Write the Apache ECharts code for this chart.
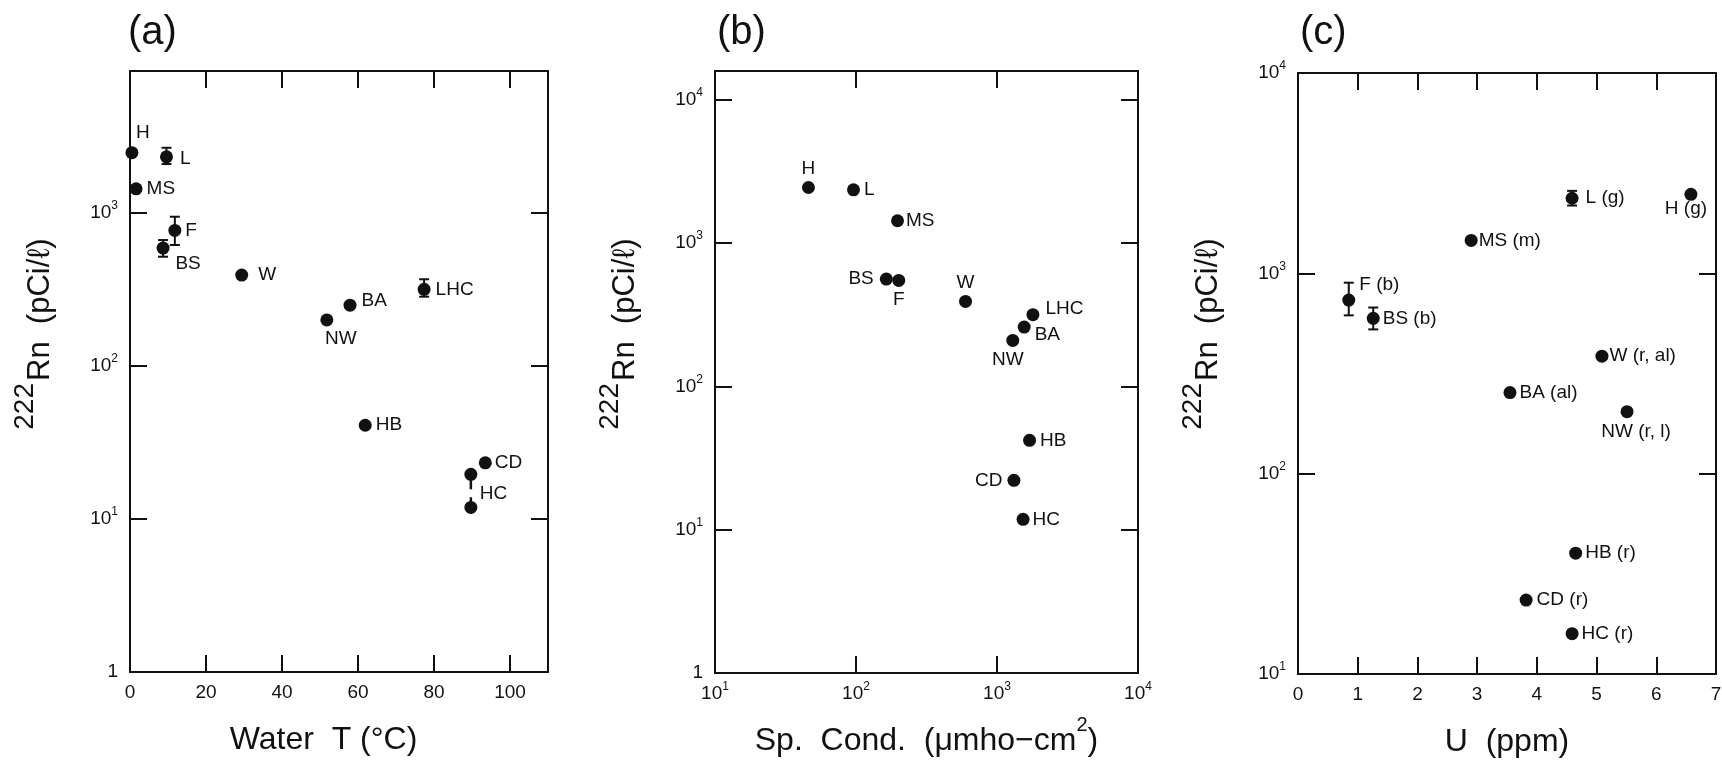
<!DOCTYPE html>
<html><head><meta charset="utf-8">
<script src="https://cdn.jsdelivr.net/npm/echarts@6/dist/echarts.min.js"></script>
<style>html,body{margin:0;padding:0;background:#fff}#c{width:1722px;height:762px}</style>
</head><body><div id="c"></div>
<script>
// ---------------- data ----------------
// Panel (a): 222Rn vs water temperature
const sitesA = ['H', 'L', 'MS', 'F', 'BS', 'W', 'BA', 'NW', 'LHC', 'HB', 'CD'];
const waterT = [0.5, 9.6, 1.6, 11.8, 8.7, 29.4, 57.9, 51.8, 77.4, 61.9, 93.5];
const rnA    = [2480, 2330, 1440, 770, 590, 393, 250, 200, 317, 41, 23.3];
const hcSiteA = 'HC';
const hcTempA = 89.7;
const hcRnA = [11.9, 19.6];
const errSitesA = ['L', 'F', 'BS', 'LHC'];
const errLowA  = [2090, 618, 518, 284];
const errHighA = [2670, 946, 666, 369];

// Panel (b): 222Rn vs specific conductance
const sitesB = ['H', 'L', 'MS', 'BS', 'F', 'W', 'LHC', 'BA', 'NW', 'HB', 'CD', 'HC'];
const spCond = [46, 96, 197, 164, 201, 598, 1798, 1559, 1294, 1702, 1318, 1531];
const rnB    = [2440, 2350, 1430, 560, 548, 391, 316, 259, 209, 42, 22.1, 11.8];

// Panel (c): 222Rn vs uranium
const sitesC = ['L (g)', 'H (g)', 'MS (m)', 'F (b)', 'BS (b)', 'W (r, al)', 'BA (al)', 'NW (r, l)', 'HB (r)', 'CD (r)', 'HC (r)'];
const uPpm   = [4.59, 6.58, 2.90, 0.85, 1.26, 5.09, 3.55, 5.51, 4.65, 3.82, 4.59];
const rnC    = [2370, 2480, 1460, 735, 596, 386, 254, 204, 40.1, 23.4, 15.9];
const errSitesC = ['L (g)', 'F (b)', 'BS (b)'];
const errLowC  = [2180, 617, 525];
const errHighC = [2580, 898, 675];

// tick labels and texts
const ticksTemp = [0, 20, 40, 60, 80, 100];
const ticksU = [0, 1, 2, 3, 4, 5, 6, 7];
const panelTitles = ['(a)', '(b)', '(c)'];
// axis names as [normal, superscript, normal, ...] pieces
const xNameParts = [['Water  T (°C)'], ['Sp.  Cond.  (μmho−cm', '2', ')'], ['U  (ppm)']];
const yTitleSup = '222';
const yTitleMain = 'Rn  (pCi/ℓ)';

// ---------------- styles (kept apart from data) ----------------
const FF = '"Liberation Sans", Arial, Helvetica, sans-serif';
const INK = '#111';
const placeA = {
  H: {position: 'top', distance: 4, offset: [11, 0]},
  L: {position: 'right', distance: 7, offset: [0, 2]},
  MS: {position: 'right', distance: 4},
  F: {position: 'right', distance: 4},
  BS: {position: 'bottom', distance: 0, offset: [25, 0]},
  W: {position: 'right', distance: 10},
  BA: {position: 'right', distance: 5, offset: [0, -4]},
  NW: {position: 'bottom', distance: 3, offset: [14, 0]},
  LHC: {position: 'right', distance: 5},
  HB: {position: 'right', distance: 4},
  CD: {position: 'right', distance: 3}
};
const placeB = {
  H: {position: 'top', distance: 3},
  L: {position: 'right', distance: 4},
  MS: {position: 'right', distance: 2},
  BS: {position: 'left', distance: 6},
  F: {position: 'bottom', distance: 3},
  W: {position: 'top', distance: 3},
  LHC: {position: 'right', distance: 6, offset: [0, -6]},
  BA: {position: 'right', distance: 4, offset: [0, 8]},
  NW: {position: 'bottom', distance: 3, offset: [-5, 0]},
  HB: {position: 'right', distance: 4},
  CD: {position: 'left', distance: 5},
  HC: {position: 'right', distance: 3}
};
const placeC = {
  'L (g)': {position: 'right', distance: 7},
  'H (g)': {position: 'bottom', distance: -2, offset: [-5, 0]},
  'MS (m)': {position: 'right', distance: 1},
  'F (b)': {position: 'right', distance: 4, offset: [0, -15]},
  'BS (b)': {position: 'right', distance: 3},
  'W (r, al)': {position: 'right', distance: 1},
  'BA (al)': {position: 'right', distance: 3},
  'NW (r, l)': {position: 'bottom', distance: 4, offset: [9, 0]},
  'HB (r)': {position: 'right', distance: 3},
  'CD (r)': {position: 'right', distance: 4},
  'HC (r)': {position: 'right', distance: 3}
};

const grids = [
  {left: 130, top: 71, width: 418, height: 601},
  {left: 715, top: 71, width: 423, height: 602},
  {left: 1298, top: 73, width: 418, height: 601}
];

function powLabel(v) {
  const n = Math.round(Math.log10(v));
  if (Math.abs(v / Math.pow(10, n) - 1) > 1e-6) return '';
  if (n === 0) return '{b|1}';
  return '{b|10}{s|' + n + '}';
}
const tickRich = {
  b: {fontSize: 19, lineHeight: 26, color: INK, fontFamily: FF},
  s: {fontSize: 12, lineHeight: 12, color: INK, fontFamily: FF, verticalAlign: 'top'}
};
const nameRich = {
  m: {fontSize: 32, lineHeight: 52, color: INK, fontFamily: FF},
  s: {fontSize: 20, lineHeight: 20, color: INK, fontFamily: FF, verticalAlign: 'top'}
};
function richName(parts) {
  return parts.map((p, i) => '{' + (i % 2 ? 's' : 'm') + '|' + p + '}').join('');
}

function baseAxis(gridIndex, position, scale, showLabel, formatter, isX) {
  return Object.assign({
    gridIndex, position,
    axisLine: {show: true, onZero: false, lineStyle: {color: INK, width: 2}},
    axisTick: {show: true, inside: true, length: 17, lineStyle: {color: INK, width: 2}},
    splitLine: {show: false},
    minorTick: {show: false},
    axisLabel: {show: showLabel, formatter, rich: tickRich, margin: isX ? 8 : 12, color: INK}
  }, scale);
}

const scaleXA = {type: 'value', min: 0, max: 110, interval: 20};
const scaleXB = {type: 'log', logBase: 10, min: 10, max: 10000};
const scaleXC = {type: 'value', min: 0, max: 7, interval: 1};
const scaleYA = {type: 'log', logBase: 10, min: 1, max: 8480};
const scaleYB = {type: 'log', logBase: 10, min: 1, max: 15849};
const scaleYC = {type: 'log', logBase: 10, min: 10, max: 10000};

const fmtTemp = v => ticksTemp.includes(v) ? '{b|' + v + '}' : '';
const fmtU = v => ticksU.includes(v) ? '{b|' + v + '}' : '';

const xAxes = [
  baseAxis(0, 'bottom', scaleXA, true, fmtTemp, true),
  baseAxis(0, 'top', scaleXA, false, fmtTemp, true),
  baseAxis(1, 'bottom', scaleXB, true, powLabel, true),
  baseAxis(1, 'top', scaleXB, false, powLabel, true),
  baseAxis(2, 'bottom', scaleXC, true, fmtU, true),
  baseAxis(2, 'top', scaleXC, false, fmtU, true)
];
const namePads = [[0, 31, 0, 0], [0, 0, 0, 0], [0, 0, 0, 0]];
[0, 2, 4].forEach((ai, k) => {
  Object.assign(xAxes[ai], {
    name: richName(xNameParts[k]), nameLocation: 'middle', nameGap: 42,
    nameTextStyle: {rich: nameRich, padding: namePads[k]}
  });
});
const yAxes = [
  baseAxis(0, 'left', scaleYA, true, powLabel, false),
  baseAxis(0, 'right', scaleYA, false, powLabel, false),
  baseAxis(1, 'left', scaleYB, true, powLabel, false),
  baseAxis(1, 'right', scaleYB, false, powLabel, false),
  baseAxis(2, 'left', scaleYC, true, powLabel, false),
  baseAxis(2, 'right', scaleYC, false, powLabel, false)
];

const labelBase = {show: true, formatter: '{b}', color: INK, fontSize: 19, lineHeight: 19, fontFamily: FF};

function scatterSeries(axisIdx, names, xs, ys, place) {
  return {
    type: 'scatter', xAxisIndex: axisIdx, yAxisIndex: axisIdx,
    symbol: 'circle', symbolSize: 13, itemStyle: {color: INK, opacity: 1},
    label: labelBase, z: 3, silent: true,
    data: names.map((n, i) => ({name: n, value: [xs[i], ys[i]], label: Object.assign({}, place[n] || {position: 'right', distance: 4})}))
  };
}

function errSeries(axisIdx, xs, lo, hi) {
  return {
    type: 'custom', xAxisIndex: axisIdx, yAxisIndex: axisIdx, silent: true, z: 2,
    data: xs.map((x, i) => [x, lo[i], hi[i]]),
    encode: {x: 0, y: [1, 2]},
    renderItem: (p, api) => {
      const x = api.value(0);
      const a = api.coord([x, api.value(1)]);
      const b = api.coord([x, api.value(2)]);
      const st = {stroke: INK, lineWidth: 2};
      return {type: 'group', children: [
        {type: 'line', shape: {x1: a[0], y1: a[1], x2: b[0], y2: b[1]}, style: st},
        {type: 'line', shape: {x1: a[0] - 5, y1: a[1], x2: a[0] + 5, y2: a[1]}, style: st},
        {type: 'line', shape: {x1: b[0] - 5, y1: b[1], x2: b[0] + 5, y2: b[1]}, style: st}
      ]};
    }
  };
}

const errXA = errSitesA.map(s => waterT[sitesA.indexOf(s)]);
const errXC = errSitesC.map(s => uPpm[sitesC.indexOf(s)]);

const series = [
  errSeries(0, errXA, errLowA, errHighA),
  scatterSeries(0, sitesA, waterT, rnA, placeA),
  {
    type: 'custom', xAxisIndex: 0, yAxisIndex: 0, silent: true, z: 2,
    data: [[hcTempA, hcRnA[0], hcRnA[1]]],
    encode: {x: 0, y: [1, 2]},
    renderItem: (p, api) => {
      const x = api.value(0), lo = api.value(1), hi = api.value(2);
      const a = api.coord([x, hi]);
      const b = api.coord([x, lo]);
      const m = api.coord([x, Math.sqrt(lo * hi)]);
      return {type: 'group', children: [
        {type: 'line', shape: {x1: a[0], y1: a[1], x2: b[0], y2: b[1]}, style: {stroke: INK, lineWidth: 2.5, lineDash: [15, 8]}},
        {type: 'text', x: m[0] + 9, y: m[1] + 3, style: {text: hcSiteA, fill: INK, font: '19px ' + FF, align: 'left', verticalAlign: 'middle', textAlign: 'left', textVerticalAlign: 'middle'}}
      ]};
    }
  },
  {
    type: 'scatter', xAxisIndex: 0, yAxisIndex: 0, symbol: 'circle', symbolSize: 13,
    itemStyle: {color: INK, opacity: 1}, z: 3, silent: true, label: {show: false},
    data: hcRnA.map(v => [hcTempA, v])
  },
  scatterSeries(2, sitesB, spCond, rnB, placeB),
  errSeries(4, errXC, errLowC, errHighC),
  scatterSeries(4, sitesC, uPpm, rnC, placeC)
];

// titles and rotated y-axis titles
const graphic = [];
panelTitles.forEach((t, i) => {
  graphic.push({type: 'text', x: grids[i].left - 2 + (i === 0 ? 0 : 4), y: 33, silent: true,
    style: {text: t, fill: INK, font: '40px ' + FF, align: 'left', verticalAlign: 'middle', textAlign: 'left', textVerticalAlign: 'middle'}});
  const ax = grids[i].left;
  graphic.push({type: 'text', x: ax - 90, y: 381, rotation: Math.PI / 2, silent: true,
    style: {text: yTitleMain, fill: INK, font: '31px ' + FF, align: 'left', verticalAlign: 'middle', textAlign: 'left', textVerticalAlign: 'middle'}});
  graphic.push({type: 'text', x: ax - 105, y: 383, rotation: Math.PI / 2, silent: true,
    style: {text: yTitleSup, fill: INK, font: '28px ' + FF, align: 'right', verticalAlign: 'middle', textAlign: 'right', textVerticalAlign: 'middle'}});
});

const chart = echarts.init(document.getElementById('c'), null, {renderer: 'canvas', width: 1722, height: 762});
chart.setOption({
  backgroundColor: '#ffffff',
  animation: false,
  textStyle: {fontFamily: FF, color: INK},
  grid: grids.map(g => Object.assign({containLabel: false, outerBoundsMode: 'none'}, g)),
  xAxis: xAxes,
  yAxis: yAxes,
  series,
  graphic
});
</script>
</body></html>
